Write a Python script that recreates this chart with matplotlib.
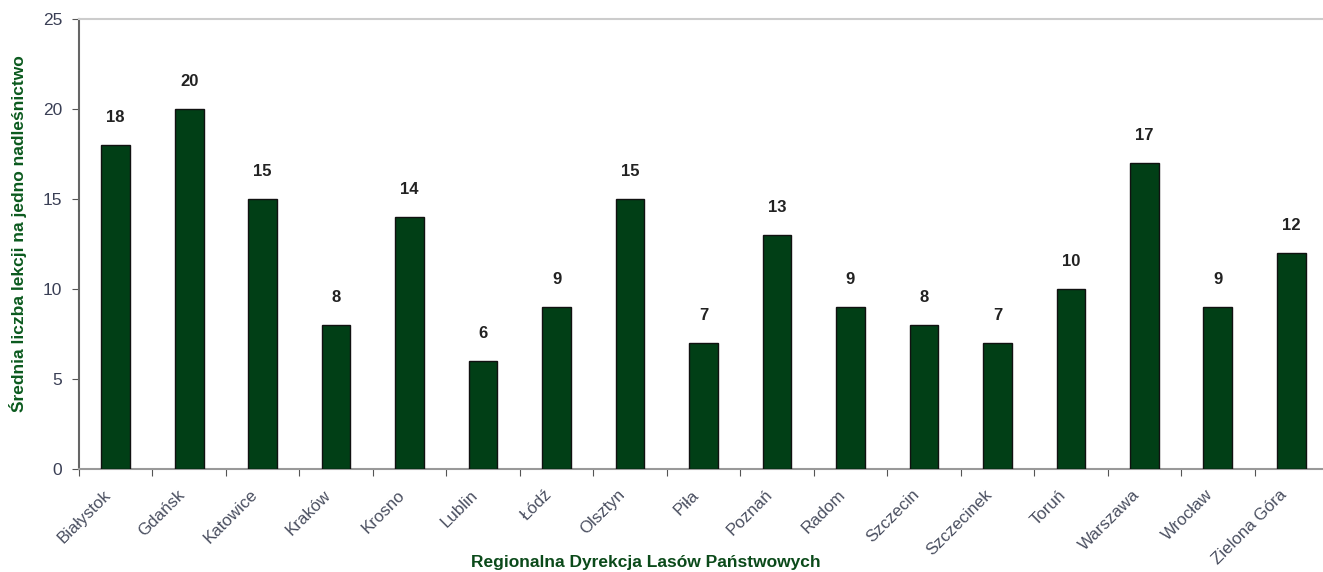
import matplotlib
matplotlib.use("Agg")
import matplotlib.pyplot as plt
import numpy as np

plt.rcParams['font.family'] = ['Liberation Sans', 'DejaVu Sans']

categories = ["Białystok", "Gdańsk", "Katowice", "Kraków", "Krosno", "Lublin", "Łódź",
              "Olsztyn", "Piła", "Poznań", "Radom", "Szczecin", "Szczecinek", "Toruń",
              "Warszawa", "Wrocław", "Zielona Góra"]
values = [18, 20, 15, 8, 14, 6, 9, 15, 7, 13, 9, 8, 7, 10, 17, 9, 12]
yticks = [0, 5, 10, 15, 20, 25]

fig = plt.figure(figsize=(13.23, 5.72), dpi=100)
ax = fig.add_axes([79/1323, 1-469/572, (1328-79)/1323, (469-19)/572])

x = np.arange(len(categories))
ax.bar(x, values, width=0.39, color='#013f16', edgecolor='#111111', linewidth=1.0, zorder=3)
for xi, v in zip(x, values):
    ax.text(xi, v + 1.5, str(v), ha='center', va='center', fontsize=12, fontweight='bold', color='#222222')

ax.set_xlim(-0.5, len(categories) - 0.5)
ax.set_ylim(0, 25)
ax.set_yticks(yticks)
ax.set_yticklabels([str(t) for t in yticks], fontsize=12.5, color='#3a3f55')
ax.set_xticks(x - 0.5, minor=False)
ax.set_xticklabels([])
ax.set_xticks(x - 0.17, minor=True)
ax.set_xticklabels(categories, minor=True, rotation=45, ha='right', rotation_mode='anchor',
                   fontsize=12.2, color='#4a4f60')
ax.tick_params(axis='x', which='minor', length=0, pad=13)
ax.tick_params(axis='x', which='major', direction='out', length=5, color='#555555')
ax.tick_params(axis='y', direction='out', length=5, color='#555555', pad=7)

ax.spines['top'].set_color('#cccccc')
ax.spines['top'].set_linewidth(1.5)
ax.spines['right'].set_visible(False)
ax.spines['left'].set_color('#666666')
ax.spines['left'].set_linewidth(1.5)
ax.spines['bottom'].set_color('#999999')
ax.spines['bottom'].set_linewidth(1.5)

fig.text(18/1323, 1-234/572, "Średnia liczba lekcji na jedno nadleśnictwo", rotation=90,
         ha='center', va='center', fontsize=12.5, fontweight='bold', color='#0b5a1e')
fig.text(646/1323, 1-562/572, "Regionalna Dyrekcja Lasów Państwowych", ha='center', va='center',
         fontsize=12.5, fontweight='bold', color='#0b4a1a')

fig.savefig("out.png", dpi=100)
